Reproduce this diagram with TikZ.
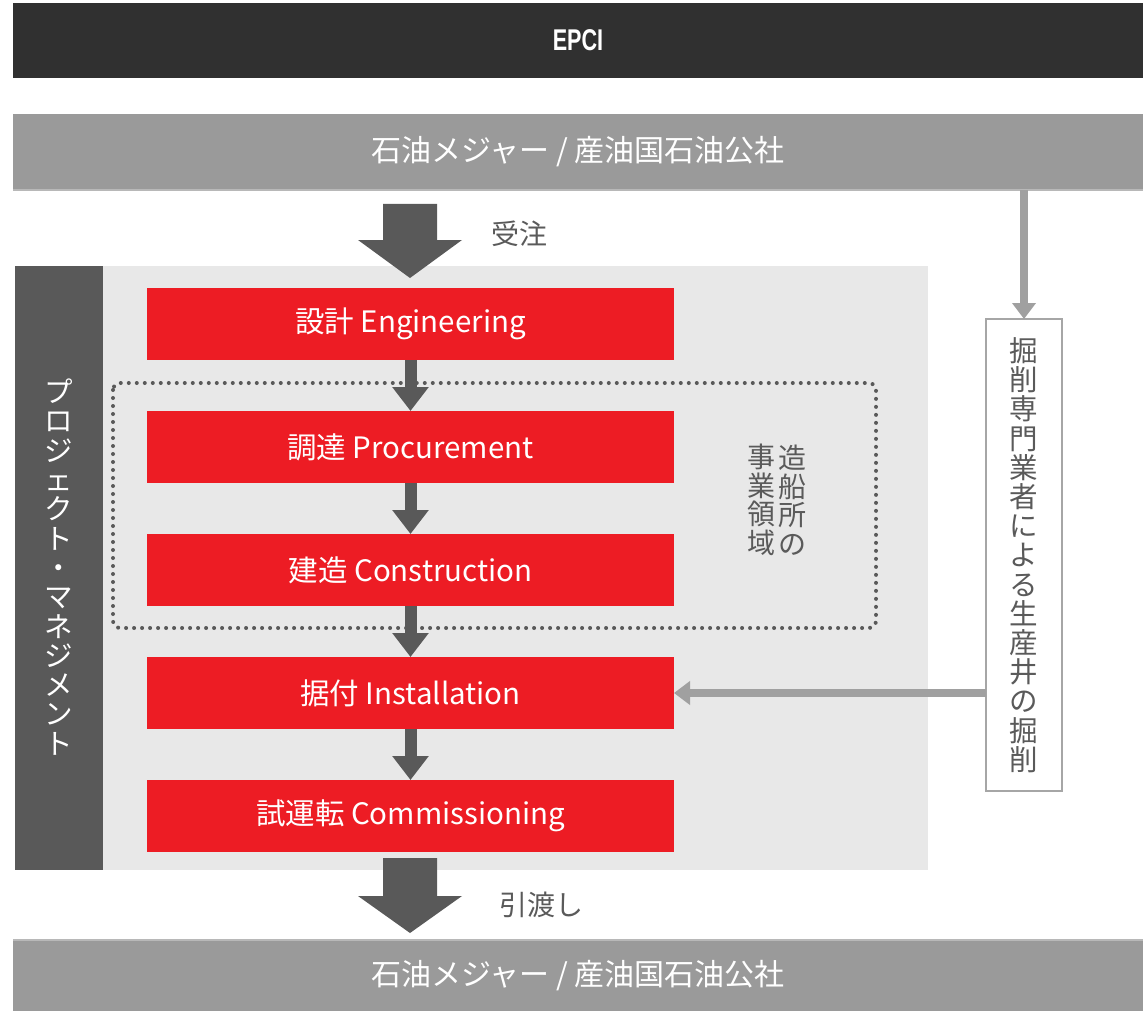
\documentclass[tikz,border=0pt]{standalone}
\usepackage{fontspec}
\usepackage{graphicx}
\setmainfont{Noto Sans CJK JP}
\newfontfamily\libsans{Liberation Sans}
\usetikzlibrary{arrows.meta}
\definecolor{epcidark}{HTML}{303030}
\definecolor{barGray}{HTML}{9A9A9A}
\definecolor{barEdge}{HTML}{B8B8B8}
\definecolor{darkGray}{HTML}{595959}
\definecolor{panelGray}{HTML}{E8E8E8}
\definecolor{redBox}{HTML}{ED1C24}
\definecolor{lightArrow}{HTML}{A0A0A0}
\definecolor{boxEdge}{HTML}{A6A6A6}
\definecolor{textGray}{HTML}{5A5A5A}
\tikzset{
  blk/.style={rectangle, inner sep=0pt, outer sep=0pt, anchor=north west},
  phase/.style={blk, fill=redBox, minimum width=527pt, minimum height=72pt, text=white, font=\fontsize{29.5}{31}\selectfont},
  flowarrow/.style={draw=darkGray, line width=12pt, -{Triangle[width=35pt,length=24pt]}},
  sidearrow/.style={draw=lightArrow, line width=8.5pt, -{Triangle[width=23pt,length=16pt]}},
  graylabel/.style={text=textGray, font=\fontsize{28}{30}\selectfont, inner sep=0pt},
  dotline/.style={draw=darkGray, line width=4pt, line cap=round, dash pattern=on 0pt off 8pt, rounded corners=7pt},
}
\begin{document}
\begin{tikzpicture}[x=1pt,y=-1pt]
\useasboundingbox (0,0) rectangle (1143,1011);
% header
\node[blk, fill=epcidark, minimum width=1130pt, minimum height=75pt, text=white] (epci) at (13,3)
  {\scalebox{0.72}[1]{\libsans\bfseries\fontsize{30}{30}\selectfont EPCI}};
% client bars
\node[blk, fill=barGray, minimum width=1130pt, minimum height=76pt, text=white, font=\fontsize{30}{31}\selectfont] (client) at (13,114)
  {石油メジャー / 産油国石油公社};
\draw[barEdge, line width=1.5pt] (client.south west) -- (client.south east);
\node[blk, fill=barGray, minimum width=1130pt, minimum height=71pt, text=white, font=\fontsize{30}{31}\selectfont] (client2) at (13,940)
  {石油メジャー / 産油国石油公社};
\draw[barEdge, line width=1.5pt] (client2.north west) -- (client2.north east);
% panel and PM bar
\node[blk, fill=panelGray, minimum width=825pt, minimum height=604pt] (panel) at (103,266) {};
\node[blk, fill=darkGray, minimum width=88pt, minimum height=604pt] (pm) at (15,266) {};
\node[text=white, align=center, inner sep=0pt, font=\fontsize{28.5}{29.3}\selectfont] (pmtext) at (59,567)
  {プ\\ロ\\ジ\\ェ\\ク\\ト\\・\\マ\\ネ\\ジ\\メ\\ン\\ト};
% shipyard domain
\node[blk, minimum width=763pt, minimum height=245pt] (yard) at (113,383) {};
\draw[dotline] (yard.north west) rectangle (yard.south east);
\node[graylabel, align=center, font=\fontsize{28}{28.5}\selectfont] (yardA) at (792,500) {造\\船\\所\\の};
\node[graylabel, align=center, font=\fontsize{28}{28.5}\selectfont] (yardB) at (761,500) {事\\業\\領\\域};
% phases
\node[phase] (eng)  at (147,288) {設計 Engineering};
\node[phase] (proc) at (147,411) {調達 Procurement};
\node[phase] (cons) at (147,534) {建造 Construction};
\node[phase] (inst) at (147,657) {据付 Installation};
\node[phase] (comm) at (147,780) {試運転 Commissioning};
\draw[flowarrow] (eng.south) -- (proc.north);
\draw[flowarrow] (proc.south) -- (cons.north);
\draw[flowarrow] (cons.south) -- (inst.north);
\draw[flowarrow] (inst.south) -- (comm.north);
% big arrows
\fill[darkGray] (383,204) -- (437,204) -- (437,240) -- (462,240) -- (410,278) -- (358,240) -- (383,240) -- cycle;
\node[graylabel] (order) at (519,234) {受注};
\fill[darkGray] (383,858) -- (437,858) -- (437,896) -- (462,896) -- (410,933) -- (358,896) -- (383,896) -- cycle;
\node[graylabel] (handover) at (541,905) {引渡し};
% drilling box
\node[blk, draw=boxEdge, line width=2pt, fill=white, minimum width=76pt, minimum height=472pt,
  align=center, text=textGray, font=\fontsize{28.5}{29.2}\selectfont] (drill) at (986,319)
  {掘\\削\\専\\門\\業\\者\\に\\よ\\る\\生\\産\\井\\の\\掘\\削};
\draw[sidearrow] (client.south -| drill.north) -- (drill.north);
\draw[sidearrow] (drill.west |- inst.east) -- (inst.east);
\end{tikzpicture}
\end{document}
